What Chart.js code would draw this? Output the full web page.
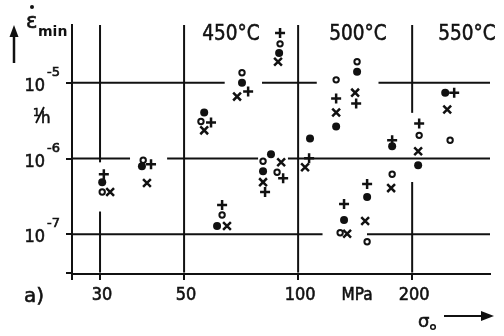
<!DOCTYPE html>
<html>
<head>
<meta charset="utf-8">
<script src="https://cdn.jsdelivr.net/npm/chart.js@4.4.1/dist/chart.umd.min.js"></script>
<style>
    html, body { margin: 0; padding: 0; background: #fff; }
    #wrap { width: 504px; height: 336px; position: relative; }
</style>
</head>
<body>
<div id="wrap"><canvas id="creepChart"></canvas></div>
<script>
// stress sigma_0 in MPa (x), minimum creep rate in 1/h (y)
const stressTicks = [30, 50, 100, 200];
const rateTicks = [1e-5, 1e-6, 1e-7];
const xRange = [25.3, 321];
const yRange = [3.13e-8, 5.76e-5];
const tempLabels = ["450°C", "500°C", "550°C"];

// filled circles
const dotStress = [30.4, 38.7, 56.5, 61.1, 71.1, 89.1, 84.8, 80.8, 107.5, 126, 143.1, 132.2, 152.1, 177.1, 207.4, 244.5];
const dotRate = [4.88e-7, 7.91e-7, 4.04e-6, 1.29e-7, 1.0e-5, 2.47e-5, 1.14e-6, 6.81e-7, 1.84e-6, 2.65e-6, 1.39e-5, 1.55e-7, 3.1e-7, 1.45e-6, 8.16e-7, 7.39e-6];
// open circles
const ringStress = [30.4, 39.0, 55.4, 63.0, 71.1, 89.6, 80.8, 88.0, 126, 143.1, 129.1, 152.1, 177.1, 208.7, 251.9];
const ringRate = [3.61e-7, 9.48e-7, 3.08e-6, 1.8e-7, 1.35e-5, 3.25e-5, 9.2e-7, 6.6e-7, 1.09e-5, 1.89e-5, 1.05e-7, 7.97e-8, 6.21e-7, 2.02e-6, 1.74e-6];
// crosses
const crossStress = [31.9, 39.9, 56.5, 64.9, 69.0, 88.5, 90.2, 80.8, 104.3, 126, 141.4, 134.7, 150.3, 176.0, 207.4, 247.5];
const crossRate = [3.61e-7, 4.74e-7, 2.35e-6, 1.29e-7, 6.55e-6, 1.89e-5, 8.93e-7, 4.88e-7, 7.68e-7, 4.04e-6, 7.39e-6, 1.02e-7, 1.5e-7, 4.07e-7, 1.25e-6, 4.42e-6];
// plus signs
const plusStress = [30.7, 40.9, 58.9, 63.0, 73.8, 89.6, 91.3, 81.8, 106.9, 126, 142.3, 132.2, 152.1, 177.1, 208.7, 258.2];
const plusRate = [6.21e-7, 8.41e-7, 2.99e-6, 2.44e-7, 7.62e-6, 4.53e-5, 5.51e-7, 3.61e-7, 1.01e-6, 6.17e-6, 5.3e-6, 2.51e-7, 4.6e-7, 1.74e-6, 2.9e-6, 7.39e-6];

const ink = "#111";
const pairs = (xs, ys) => xs.map((v, i) => ({ x: v, y: ys[i] }));

// lettering is a bit heavy in the scan, so fill + thin stroke
function label(ctx, str, x, y, size, align, sx) {
    ctx.save();
    ctx.font = size + 'px "DejaVu Sans"';
    ctx.textAlign = align || "left";
    ctx.translate(x, y);
    ctx.scale(sx || 1, 1);
    ctx.fillText(str, 0, 0);
    ctx.lineWidth = 0.6;
    ctx.strokeText(str, 0, 0);
    ctx.restore();
}

// hand drawn grid (with gaps round the points) + all the loose lettering
const sketchLayer = {
    id: "sketchLayer",
    beforeDatasetsDraw(chart, args, opts) {
        const { ctx, scales: { x, y } } = chart;
        ctx.save();
        ctx.strokeStyle = ink;
        ctx.lineWidth = 2;
        opts.hLines.forEach(([v, parts]) => {
            const py = y.getPixelForValue(v);
            parts.forEach(([a, b]) => {
                ctx.beginPath();
                ctx.moveTo(x.getPixelForValue(a), py);
                ctx.lineTo(x.getPixelForValue(b), py);
                ctx.stroke();
            });
        });
        opts.vLines.forEach(([v, parts]) => {
            const px = x.getPixelForValue(v);
            parts.forEach(([a, b]) => {
                ctx.beginPath();
                ctx.moveTo(px, y.getPixelForValue(a));
                ctx.lineTo(px, y.getPixelForValue(b));
                ctx.stroke();
            });
        });
        ctx.restore();
    },
    afterDraw(chart) {
        const { ctx, scales: { x, y } } = chart;
        ctx.save();
        ctx.fillStyle = ink;
        ctx.strokeStyle = ink;

        // x tick labels
        stressTicks.forEach((v) => {
            label(ctx, String(v), x.getPixelForValue(v) + 2, 300, 17, "center", 0.95);
        });

        // y tick labels 10^-n
        rateTicks.forEach((v) => {
            const py = y.getPixelForValue(v);
            const e = Math.round(Math.log10(v));
            label(ctx, "10", 45, py + 8, 17, "right", 0.95);
            label(ctx, "-" + Math.abs(e), 47, py - 7, 13, "left");
        });

        // 1/h
        label(ctx, "1", 33, 116, 11, "left");
        ctx.lineWidth = 1.8;
        ctx.beginPath();
        ctx.moveTo(36, 123);
        ctx.lineTo(44, 107);
        ctx.stroke();
        label(ctx, "h", 41, 123, 15, "left");

        // epsilon dot min + arrow
        label(ctx, "ε", 26, 28, 21, "left");
        ctx.beginPath();
        ctx.arc(32, 7, 2, 0, Math.PI * 2);
        ctx.fill();
        ctx.font = 'bold 14px "DejaVu Sans"';
        ctx.fillText("min", 38, 36);
        ctx.lineWidth = 2.5;
        ctx.beginPath();
        ctx.moveTo(14, 63);
        ctx.lineTo(14, 34);
        ctx.stroke();
        ctx.beginPath();
        ctx.moveTo(14, 25);
        ctx.lineTo(9.5, 37);
        ctx.lineTo(18.5, 37);
        ctx.closePath();
        ctx.fill();

        // temperatures
        [231, 358, 467].forEach((cx, i) => {
            label(ctx, tempLabels[i], cx, 40, 22, "center", 0.84);
        });

        // bottom lettering
        label(ctx, "a)", 24, 302, 20, "left");
        label(ctx, "MPa", 357, 300, 17, "center", 0.9);
        label(ctx, "σ", 418, 327, 18, "left");
        ctx.lineWidth = 1.5;
        ctx.beginPath();
        ctx.arc(433, 327, 2.3, 0, Math.PI * 2);
        ctx.stroke();
        ctx.lineWidth = 2;
        ctx.beginPath();
        ctx.moveTo(444, 316);
        ctx.lineTo(484, 316);
        ctx.stroke();
        ctx.beginPath();
        ctx.moveTo(494, 316);
        ctx.lineTo(481, 311);
        ctx.lineTo(481, 321);
        ctx.closePath();
        ctx.fill();
        ctx.restore();
    },
};

const datasetsAll = [
    {
        label: "filled",
        data: pairs(dotStress, dotRate),
        pointStyle: "circle",
        pointRadius: 4,
        backgroundColor: ink,
        borderColor: ink,
        borderWidth: 0,
    },
    {
        label: "open",
        data: pairs(ringStress, ringRate),
        pointStyle: "circle",
        pointRadius: 2.7,
        backgroundColor: "#fff",
        borderColor: ink,
        borderWidth: 2,
    },
    {
        label: "cross",
        data: pairs(crossStress, crossRate),
        pointStyle: "crossRot",
        pointRadius: 5.5,
        borderColor: ink,
        borderWidth: 2.5,
    },
    {
        label: "plus",
        data: pairs(plusStress, plusRate),
        pointStyle: "cross",
        pointRadius: 5,
        borderColor: ink,
        borderWidth: 2.5,
    },
];

const config = {
    type: "scatter",
    data: { datasets: datasetsAll },
    options: {
        responsive: true,
        maintainAspectRatio: false,
        animation: false,
        events: [],
        layout: { autoPadding: false, padding: { left: 0, top: 25, right: 14, bottom: 0 } },
        plugins: {
            legend: { display: false },
            tooltip: { enabled: false },
            sketchLayer: {
                hLines: [
                    [1e-5, [[xRange[0], 64], [80.3, 112], [163, xRange[1]]]],
                    [1e-6, [[xRange[0], 36], [45.1, 78.4], [94, xRange[1]]]],
                    [1e-7, [[xRange[0], 116], [152, xRange[1]]]],
                ],
                vLines: [
                    [30, [[8.9e-7, yRange[1]], [yRange[0], 2.0e-7]]],
                    [50, [[yRange[0], yRange[1]]]],
                    [100, [[yRange[0], yRange[1]]]],
                    [200, [[4.0e-6, yRange[1]], [yRange[0], 4.9e-7]]],
                ],
            },
        },
        scales: {
            x: {
                type: "logarithmic",
                min: xRange[0],
                max: xRange[1],
                afterBuildTicks: (s) => {
                    s.ticks = [xRange[0], ...stressTicks].map((v) => ({ value: v }));
                },
                afterFit: (s) => {
                    s.height = 62;
                },
                border: { display: true, color: ink, width: 2 },
                grid: { drawOnChartArea: false, drawTicks: true, tickLength: 6, color: ink, lineWidth: 2 },
                ticks: { autoSkip: false, maxRotation: 0, callback: () => "" },
            },
            y: {
                type: "logarithmic",
                min: yRange[0],
                max: yRange[1],
                afterBuildTicks: (s) => {
                    s.ticks = [yRange[0], ...rateTicks].map((v) => ({ value: v }));
                },
                afterFit: (s) => {
                    s.width = 72;
                },
                border: { display: true, color: ink, width: 2 },
                grid: { drawOnChartArea: false, drawTicks: true, tickLength: 6, color: ink, lineWidth: 2 },
                ticks: { autoSkip: false, callback: () => "" },
            },
        },
    },
    plugins: [sketchLayer],
};

var ctx = document.getElementById("creepChart").getContext("2d");
var creepChart = new Chart(ctx, config);
</script>
</body>
</html>
